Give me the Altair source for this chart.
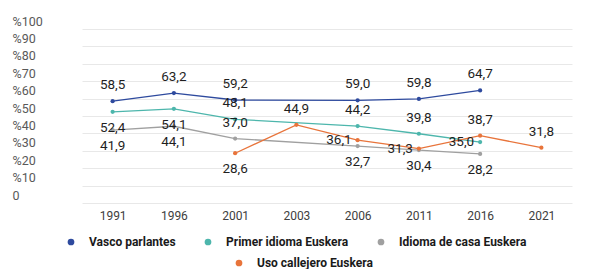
import altair as alt
import pandas as pd

# ---- data ----
years = ["1991", "1996", "2001", "2003", "2006", "2011", "2016", "2021"]
series_names = ["Vasco parlantes", "Primer idioma Euskera",
                "Idioma de casa Euskera", "Uso callejero Euskera"]

census_years = ["1991", "1996", "2001", "2006", "2011", "2016"]
vasco = [58.5, 63.2, 59.2, 59.0, 59.8, 64.7]
primer = [52.4, 54.1, 48.1, 44.2, 39.8, 35.0]
casa = [41.9, 44.1, 37.0, 32.7, 30.4, 28.2]

uso_years = ["2001", "2003", "2006", "2011", "2016", "2021"]
uso = [28.6, 44.9, 36.1, 31.3, 38.7, 31.8]

# ---- style ----
colors = ["#2E4A9E", "#4DB6AC", "#A0A0A0", "#E8743B"]
# label placement per point (style, not data)
placement = {
    "Vasco parlantes": ["above"] * 6,
    "Primer idioma Euskera": ["below", "below", "above", "above", "above", "left"],
    "Idioma de casa Euskera": ["below", "below", "above", "below", "below", "below"],
    "Uso callejero Euskera": ["below", "above", "left", "left", "above", "above"],
}

rows = []
for name, yrs, vals in [
    (series_names[0], census_years, vasco),
    (series_names[1], census_years, primer),
    (series_names[2], census_years, casa),
    (series_names[3], uso_years, uso),
]:
    for i, (yr, v) in enumerate(zip(yrs, vals)):
        rows.append({"series": name, "year": yr, "value": v,
                     "pos": placement[name][i]})
df = pd.DataFrame(rows)

FONT = "Roboto"

x_enc = alt.X("year:O",
              scale=alt.Scale(type="point", domain=years, range=[72, 562]),
              axis=alt.Axis(title=None, labelAngle=0, ticks=False, domain=False,
                            grid=False, labelPadding=7, labelFontSize=12,
                            labelColor="#404040", labelFont=FONT))
y_enc = alt.Y("value:Q",
              scale=alt.Scale(domain=[0, 100]),
              axis=alt.Axis(title=None, values=list(range(0, 101, 10)),
                            ticks=False, domain=False, grid=True,
                            gridColor="#E8E8E8", gridWidth=1,
                            labelExpr="datum.value == 0 ? '0' : '%' + datum.value",
                            labelAlign="left", labelPadding=-2,
                            labelBaseline="middle", labelOffset=-8,
                            labelFontSize=12.5, labelColor="#595959",
                            labelFont=FONT))

base = alt.Chart(df).encode(x=x_enc, y=y_enc)

stroke_enc = alt.Stroke("series:N",
                        scale=alt.Scale(domain=series_names, range=colors),
                        legend=None)

leg_common = dict(orient="none", direction="horizontal", title=None,
                  symbolType="circle", symbolSize=45, symbolStrokeWidth=0,
                  labelFont=FONT, labelFontWeight="bold", labelFontSize=12,
                  labelColor="#1A1A1A", labelOffset=12, columnPadding=26,
                  padding=0)

main3 = base.transform_filter(
    alt.FieldOneOfPredicate(field="series", oneOf=series_names[:3]))
g1 = alt.layer(
    main3.mark_line(strokeWidth=1.3).encode(stroke=stroke_enc),
    main3.mark_circle(size=18, opacity=1).encode(
        color=alt.Color("series:N",
                        scale=alt.Scale(domain=series_names[:3], range=colors[:3]),
                        legend=alt.Legend(legendX=55, legendY=207, **leg_common))),
)

main4 = base.transform_filter(alt.datum.series == series_names[3])
g2 = alt.layer(
    main4.mark_line(strokeWidth=1.3).encode(stroke=stroke_enc),
    main4.mark_circle(size=18, opacity=1).encode(
        color=alt.Color("series:N",
                        scale=alt.Scale(domain=[series_names[3]], range=[colors[3]]),
                        legend=alt.Legend(legendX=223, legendY=228, **leg_common))),
)

lbl = base.transform_calculate(
    label="replace(format(datum.value, '.1f'), '.', ',')")
txt_common = dict(font=FONT, fontSize=13.5, color="#1F1F1F", baseline="middle")
t_above = lbl.transform_filter(alt.datum.pos == "above").mark_text(
    dy=-16, align="center", **txt_common).encode(text="label:N")
t_below = lbl.transform_filter(alt.datum.pos == "below").mark_text(
    dy=16, align="center", **txt_common).encode(text="label:N")
t_left = lbl.transform_filter(alt.datum.pos == "left").mark_text(
    dx=-6, align="right", **txt_common).encode(text="label:N")

chart = alt.layer(g1, g2, t_above, t_below, t_left).resolve_scale(
    color="independent"
).properties(
    width=587, height=174,
    autosize=alt.AutoSizeParams(type="none"),
    padding={"left": 2, "top": 21, "right": 0, "bottom": 66},
).configure_view(stroke=None)

chart.save("out.html", embed_options={"renderer": "svg", "actions": False})
